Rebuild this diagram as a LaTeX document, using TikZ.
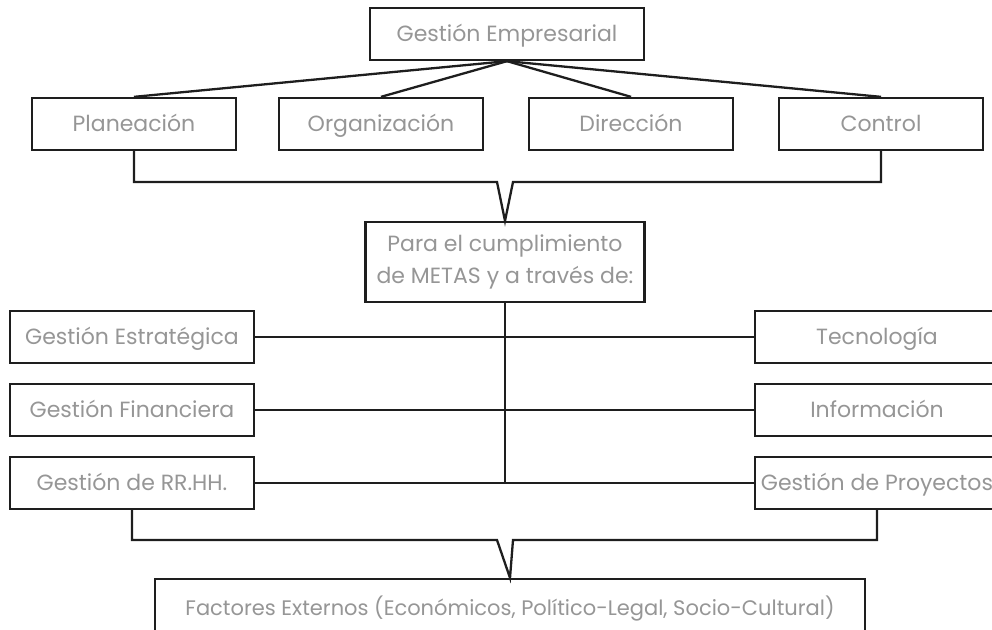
\documentclass[tikz,border=0pt]{standalone}
\usepackage{fontspec}
\setmainfont{Poppins}
\usepackage{tikz}
\usetikzlibrary{positioning, calc}
\definecolor{LineDark}{RGB}{30, 30, 30}
\definecolor{TextGray}{RGB}{150, 150, 150}

\begin{document}
\begin{tikzpicture}[x=1pt, y=-1pt,
  box/.style={draw=LineDark, line width=2.3pt, fill=white,
    minimum width=204pt, minimum height=52pt, inner sep=0pt,
    text height=18pt, text depth=4pt,
    align=center, font=\fontsize{22}{26}\selectfont\color{TextGray}},
  sidebox/.style={box, minimum width=244pt},
  link/.style={LineDark, line width=2.3pt}
]
\useasboundingbox (0,0) rectangle (992,629);

% Top
\node[box, minimum width=274pt] (gest) at (507, 34) {Gestión Empresarial};

% Second row - functions
\node[box] (plan) at (134, 124) {Planeación};
\node[box] (orga) at (381, 124) {Organización};
\node[box] (dire) at (631, 124) {Dirección};
\node[box] (ctrl) at (881, 124) {Control};

\draw[link] (gest.south) -- (plan.north);
\draw[link] (gest.south) -- (orga.north);
\draw[link] (gest.south) -- (dire.north);
\draw[link] (gest.south) -- (ctrl.north);

% Middle
\node[box, minimum width=279pt, minimum height=80pt, text height=, text depth=,
      font=\fontsize{22}{32}\selectfont\color{TextGray}]
  (metas) at (505, 262) {Para el cumplimiento\\de METAS y a través de:};

\coordinate (v1l) at (497, 182);
\coordinate (v1r) at (513, 182);
\draw[link] (plan.south) |- (v1l) -- (metas.north) -- (v1r) -| (ctrl.south);

% Left column
\node[sidebox] (estr) at (132, 337) {Gestión Estratégica};
\node[sidebox] (fina) at (132, 410) {Gestión Financiera};
\node[sidebox] (rrhh) at (132, 483) {Gestión de RR.HH.};

% Right column
\node[sidebox] (tecn) at (877, 337) {Tecnología};
\node[sidebox] (info) at (877, 410) {Información};
\node[sidebox] (proy) at (877, 483) {Gestión de Proyectos};

\draw[link] (estr.east) -- (tecn.west);
\draw[link] (fina.east) -- (info.west);
\draw[link] (rrhh.east) -- (proy.west);
\draw[link] (metas.south) -- (metas.south |- rrhh.east);

% Bottom
\node[box, minimum width=710pt, minimum height=58pt,
      font=\fontsize{21}{24}\selectfont\color{TextGray}]
  (fact) at (510, 608) {Factores Externos (Económicos, Político-Legal, Socio-Cultural)};

\coordinate (v2l) at (497, 540);
\coordinate (v2r) at (513, 540);
\draw[link] (rrhh.south) |- (v2l) -- (fact.north) -- (v2r) -| (proy.south);
\end{tikzpicture}
\end{document}
